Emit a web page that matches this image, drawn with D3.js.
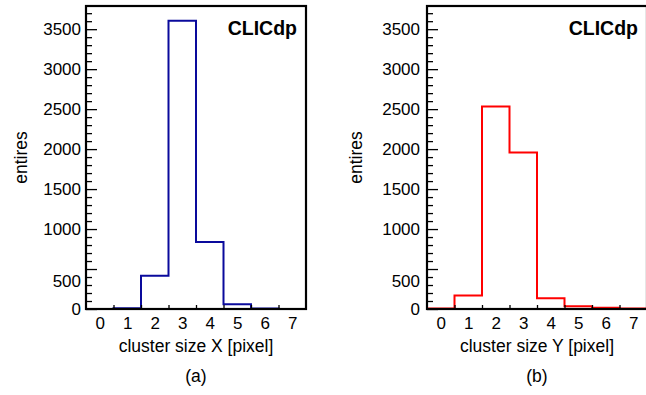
<!DOCTYPE html>
<html>
<head>
<meta charset="utf-8">
<script src="https://cdn.jsdelivr.net/npm/d3@7"></script>
<style>
  body { margin: 0; background: #fff; }
  svg text { font-family: "Liberation Sans", Arial, Helvetica, sans-serif; fill: #000; }
</style>
</head>
<body>
<svg id="chart" width="646" height="395"></svg>
<script>
// Bin centres (cluster size in pixels) and entries per bin
const binCenters = [0, 1, 2, 3, 4, 5, 6, 7];
const entriesX = [0, 8, 416, 3607, 837, 58, 6, 0];
const entriesY = [5, 170, 2533, 1958, 133, 33, 16, 5];

// Axis ticks and labels
const yMajorTicks = [0, 500, 1000, 1500, 2000, 2500, 3000, 3500];
const xTickLabels = ["0", "1", "2", "3", "4", "5", "6", "7"];
const xTitles = ["cluster size X [pixel]", "cluster size Y [pixel]"];
const panelTags = ["(a)", "(b)"];
const yTitle = "entires";
const experimentLabel = "CLICdp";

const svg = d3.select("#chart");
const frameTop = 6, frameBottom = 309, frameWidth = 220;
const yMax = 3790;

function drawPanel(idx, left, values, color, labelGap, yTitleX) {
  const x = d3.scaleLinear().domain([-0.5, 7.5]).range([left, left + frameWidth]);
  const y = d3.scaleLinear().domain([0, yMax]).range([frameBottom, frameTop]);
  const g = svg.append("g");

  const clipId = "clip" + idx;
  svg.append("clipPath").attr("id", clipId)
    .append("rect")
    .attr("x", left).attr("y", frameTop - 2)
    .attr("width", frameWidth).attr("height", frameBottom - frameTop + 2);

  // histogram outline as a step line over bin edges
  const pts = [[-0.5, 0]];
  values.forEach((v, i) => {
    pts.push([binCenters[i] - 0.5, v]);
    pts.push([binCenters[i] + 0.5, v]);
  });
  pts.push([binCenters[binCenters.length - 1] + 0.5, 0]);
  g.append("path")
    .attr("clip-path", `url(#${clipId})`)
    .attr("d", d3.line().x(d => x(d[0])).y(d => y(d[1]))(pts))
    .attr("fill", "none")
    .attr("stroke", color)
    .attr("stroke-width", 2);

  // y axis: minor ticks every 100, major ticks every 500 with labels
  const minor = d3.range(0, yMax, 100).filter(v => v % 500 !== 0);
  const yMinor = g.append("g").attr("transform", `translate(${left},0)`)
    .call(d3.axisLeft(y).tickValues(minor).tickSizeInner(-6).tickSizeOuter(0).tickFormat(""));
  const yMajor = g.append("g").attr("transform", `translate(${left},0)`)
    .call(d3.axisLeft(y).tickValues(yMajorTicks).tickSizeInner(-11).tickSizeOuter(0)
      .tickPadding(labelGap).tickFormat(d3.format("d")));
  [yMinor, yMajor].forEach(a => {
    a.select(".domain").remove();
    a.selectAll("line").attr("stroke", "#000").attr("stroke-width", 1.3);
  });
  // the "500" label sits a little lower so it clears the "0" label
  yMajor.selectAll("text").attr("font-size", 17)
    .attr("y", d => (d === 500 ? 12 : 0));

  // x axis: labels at bin centres, short ticks at bin edges
  const xLab = g.append("g").attr("transform", `translate(0,${frameBottom})`)
    .call(d3.axisBottom(x).tickValues(binCenters).tickSize(0).tickPadding(8)
      .tickFormat((d, i) => xTickLabels[i]));
  xLab.select(".domain").remove();
  xLab.selectAll("text").attr("font-size", 17);
  const edges = d3.range(0.5, 7, 1);
  const xTicks = g.append("g").attr("transform", `translate(0,${frameBottom})`)
    .call(d3.axisBottom(x).tickValues(edges).tickSizeInner(-4).tickSizeOuter(0).tickFormat(""));
  xTicks.select(".domain").remove();
  xTicks.selectAll("line").attr("stroke", "#000").attr("stroke-width", 1.3);

  // frame
  g.append("rect")
    .attr("x", left).attr("y", frameTop)
    .attr("width", frameWidth).attr("height", frameBottom - frameTop)
    .attr("fill", "none").attr("stroke", "#000").attr("stroke-width", 2.2);

  // titles
  const cx = left + frameWidth / 2;
  g.append("text").attr("x", cx).attr("y", 352)
    .attr("text-anchor", "middle").attr("font-size", 17.5).text(xTitles[idx]);
  g.append("text").attr("x", cx).attr("y", 382)
    .attr("text-anchor", "middle").attr("font-size", 17.5).text(panelTags[idx]);
  g.append("text")
    .attr("transform", `translate(${yTitleX},${(frameTop + frameBottom) / 2}) rotate(-90)`)
    .attr("text-anchor", "middle").attr("font-size", 17.5).text(yTitle);
  g.append("text").attr("x", left + frameWidth - 9).attr("y", 35)
    .attr("text-anchor", "end").attr("font-size", 19.5).attr("font-weight", "bold")
    .text(experimentLabel);
}

drawPanel(0, 86, entriesX, "#0a0a9c", 5, 27);
drawPanel(1, 427, entriesY, "#ff0000", 7, 362);
</script>
</body>
</html>
